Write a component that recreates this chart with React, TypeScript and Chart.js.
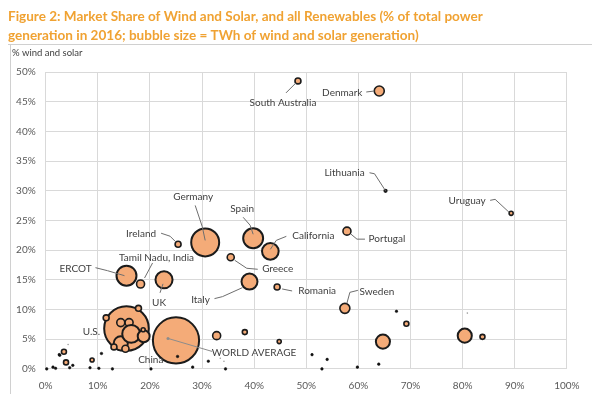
import { useEffect, useRef } from "react";
import { Chart, registerables } from "chart.js";

Chart.register(...registerables);

const TITLE_LINES = [
  "Figure 2: Market Share of Wind and Solar, and all Renewables (% of total power",
  "generation in 2016; bubble size = TWh of wind and solar generation)",
];
const Y_AXIS_TITLE = "% wind and solar";
const X_MIN = 0;
const X_MAX = 100;
const X_STEP = 10;
const Y_MIN = 0;
const Y_MAX = 50;
const Y_STEP = 5;

// Labelled bubbles: x = % all renewables, y = % wind and solar, size = TWh wind+solar
const namedLabels = [
  "South Australia", "Denmark", "Lithuania", "Uruguay", "Portugal", "Ireland",
  "Germany", "Spain", "California", "Greece", "Tamil Nadu, India", "ERCOT",
  "UK", "Italy", "Romania", "Sweden", "U.S.", "WORLD AVERAGE", "China",
];
const namedX = [48.4, 64.0, 65.2, 89.3, 57.8, 25.4, 30.6, 39.8, 43.1, 35.5, 18.2, 15.5, 22.7, 39.1, 44.4, 57.4, 15.5, 25.0, 14.4];
const namedY = [48.5, 46.8, 30.0, 26.2, 23.2, 21.0, 21.3, 22.0, 19.8, 18.8, 14.3, 15.7, 15.0, 14.7, 13.8, 10.2, 6.8, 4.8, 4.3];
const namedTWh = [5, 14, 1, 2.3, 9, 5, 110, 56, 39, 7, 9, 56, 41, 36, 5, 14, 280, 300, 28];

// Unlabelled bubbles
const otherX = [17.8, 11.6, 14.4, 16.0, 16.4, 18.8, 15.3, 13.1, 18.7, 3.5, 3.9, 8.9, 32.8, 38.2, 44.8, 69.2, 80.4, 83.8, 64.7];
const otherY = [10.2, 8.6, 7.8, 7.8, 5.9, 5.5, 3.4, 3.7, 6.6, 2.9, 1.1, 1.5, 5.6, 6.2, 4.6, 7.6, 5.6, 5.4, 4.6];
const otherTWh = [5, 5, 9, 9, 45, 20, 7, 5, 2.3, 3.5, 3.5, 2.3, 9, 3.5, 2.3, 3.5, 28, 3.5, 28];

// Very small systems (dots)
const dotX = [2.6, 10.7, 31.2, 25.3, 67.3, 51.1, 54.0, 28.2, 34.5, 0.2, 1.4, 1.9, 4.6, 5.2, 8.5, 10.2, 12.8, 20.2, 53.0, 59.8, 63.9, 2.7];
const dotY = [2.4, 2.6, 1.3, 2.1, 9.7, 2.4, 1.6, 0.3, 0.0, 0.0, 0.3, 0.1, 0.2, 0.6, 0.2, 0.1, 0.0, 0.0, 0.0, 0.3, 0.8, 2.3];
const faintX = [80.9, 4.3, 33.5, 34.2];
const faintY = [9.4, 4.1, 1.8, 1.3];

// label placement (pixel offsets from the bubble centre)
type LabelLayout = { tx: number; ty: number; line?: [number, number][]; grey?: boolean };
const LABEL_LAYOUT: Record<string, LabelLayout> = {
  "South Australia": { tx: -15, ty: 22, line: [[-12, 12], [-2, 2]] },
  Denmark: { tx: -37, ty: 2, line: [[-13, 1], [-5, 0]] },
  Lithuania: { tx: -41, ty: -18, line: [[-16, -18], [-11, -17], [0, 0]] },
  Uruguay: { tx: -44, ty: -13, line: [[-21, -13], [-16, -14], [-2, -1]] },
  Portugal: { tx: 40, ty: 8, line: [[4, 3], [10, 8], [18, 8]] },
  California: { tx: 43, ty: -16, line: [[0, -2], [6, -11], [16, -15]] },
  Spain: { tx: -11, ty: -29, line: [[-10, -21], [-3, -13], [0, -4]] },
  Germany: { tx: -12, ty: -46, line: [[-10, -37], [-3, -16], [0, -2]] },
  Ireland: { tx: -37, ty: -10, line: [[-17, -11], [-8, -8], [-3, -3]] },
  "Tamil Nadu, India": { tx: 16, ty: -26, line: [[12, -21], [4, -6]] },
  ERCOT: { tx: -51, ty: -7, line: [[-31, -8], [-19, -5], [-2, 0]] },
  UK: { tx: -5, ty: 23, line: [[-4, 13], [-1, 4]] },
  Italy: { tx: -49, ty: 18, line: [[-35, 17], [-27, 15], [-7, 6]] },
  Greece: { tx: 47, ty: 12, line: [[4, 3], [16, 11], [27, 12]] },
  Romania: { tx: 40, ty: 4, line: [[5, 2], [15, 4]] },
  Sweden: { tx: 32, ty: -17, line: [[2, -5], [5, -16], [13, -18]] },
  "U.S.": { tx: -35, ty: 3 },
  "WORLD AVERAGE": { tx: 78, ty: 12, line: [[-8, -2], [36, 11]], grey: true },
  China: { tx: 30, ty: 16 },
};

const R_SCALE = 1.333;
const toR = (twh: number) => R_SCALE * Math.sqrt(twh);
const FILL = "#F4AB78";
const EDGE = "#1b1b1b";
const TEXT = "#404040";
const FONT = "Lato, 'Open Sans', sans-serif";

const decorPlugin = {
  id: "decor",
  beforeDraw(chart: any) {
    const ctx = chart.ctx;
    ctx.save();
    ctx.fillStyle = "#ffffff";
    ctx.fillRect(0, 0, chart.width, chart.height);
    // frame
    ctx.strokeStyle = "#d0d0d0";
    ctx.lineWidth = 1;
    ctx.beginPath();
    ctx.moveTo(8, 44.5);
    ctx.lineTo(chart.width, 44.5);
    ctx.moveTo(10.5, 44.5);
    ctx.lineTo(10.5, chart.height);
    ctx.stroke();
    // title
    ctx.fillStyle = "#F0A232";
    ctx.textBaseline = "middle";
    ctx.textAlign = "left";
    ctx.font = `bold 15px ${FONT}`;
    const w = ctx.measureText(TITLE_LINES[0]).width;
    const size = (15 * 475) / w;
    ctx.font = `bold ${size.toFixed(2)}px ${FONT}`;
    ctx.fillText(TITLE_LINES[0], 8, 17);
    ctx.fillText(TITLE_LINES[1], 8, 36);
    // y axis title
    ctx.fillStyle = TEXT;
    ctx.font = `9.5px ${FONT}`;
    ctx.fillText(Y_AXIS_TITLE, 12, 53);
    ctx.restore();
  },
  afterDatasetsDraw(chart: any) {
    const ctx = chart.ctx;
    const meta = chart.getDatasetMeta(2);
    ctx.save();
    ctx.font = `10px ${FONT}`;
    ctx.textAlign = "center";
    ctx.textBaseline = "middle";
    namedLabels.forEach((name, i) => {
      const el = meta.data[i];
      const lay = LABEL_LAYOUT[name];
      if (!el || !lay) return;
      const px = el.x;
      const py = el.y;
      if (lay.line) {
        ctx.strokeStyle = lay.grey ? "#8c8c8c" : "#6e6e6e";
        ctx.lineWidth = 1;
        ctx.beginPath();
        lay.line.forEach(([dx, dy], k) => {
          if (k === 0) ctx.moveTo(px + dx, py + dy);
          else ctx.lineTo(px + dx, py + dy);
        });
        ctx.stroke();
        if (lay.grey) {
          ctx.fillStyle = "#8c8c8c";
          ctx.beginPath();
          ctx.arc(px + lay.line[0][0], py + lay.line[0][1], 1.5, 0, Math.PI * 2);
          ctx.fill();
        }
      }
      ctx.fillStyle = TEXT;
      ctx.fillText(name, px + lay.tx, py + lay.ty);
    });
    ctx.restore();
  },
};

export default function App() {
  const ref = useRef<HTMLCanvasElement | null>(null);

  useEffect(() => {
    if (!ref.current) return;
    const named = namedX.map((x, i) => ({ x, y: namedY[i], r: toR(namedTWh[i]) }));
    const others = otherX.map((x, i) => ({ x, y: otherY[i], r: toR(otherTWh[i]) }));
    const dots = dotX.map((x, i) => ({ x, y: dotY[i], r: 1.3 }));
    const faint = faintX.map((x, i) => ({ x, y: faintY[i], r: 0.8 }));

    const chart = new Chart(ref.current, {
      type: "bubble",
      data: {
        datasets: [
          {
            label: "dots",
            data: dots,
            backgroundColor: "#111111",
            borderColor: "#111111",
            borderWidth: 0.5,
            order: 0,
            clip: false,
          } as any,
          {
            label: "others",
            data: others,
            backgroundColor: FILL,
            borderColor: EDGE,
            borderWidth: (c: any) => (c.raw && c.raw.r > 5 ? 2 : 1.6),
            order: 1,
            clip: false,
          } as any,
          {
            label: "named",
            data: named,
            backgroundColor: (c: any) => (c.raw && c.raw.r < 1.6 ? EDGE : FILL),
            borderColor: EDGE,
            borderWidth: (c: any) => (c.raw && c.raw.r > 5 ? 2 : 1.6),
            order: 2,
            clip: false,
          } as any,
          {
            label: "faint",
            data: faint,
            backgroundColor: "#9a9a9a",
            borderColor: "#9a9a9a",
            borderWidth: 0,
            order: 3,
            clip: false,
          } as any,
        ],
      },
      options: {
        animation: false,
        responsive: false,
        layout: { padding: { top: 72, right: 16, bottom: 0, left: 0 } },
        plugins: {
          legend: { display: false },
          tooltip: { enabled: false },
          title: { display: false },
        },
        scales: {
          x: {
            type: "linear",
            min: X_MIN,
            max: X_MAX,
            ticks: {
              stepSize: X_STEP,
              padding: 11,
              color: "#595959",
              font: { size: 10, family: FONT },
              callback: (v: any) => `${v}%`,
              maxRotation: 0,
            },
            grid: { color: "#d9d9d9", drawTicks: false },
            border: { color: "#d9d9d9" },
            afterFit: (s: any) => {
              s.height = 22;
            },
          },
          y: {
            type: "linear",
            min: Y_MIN,
            max: Y_MAX,
            ticks: {
              stepSize: Y_STEP,
              padding: 10,
              color: "#595959",
              font: { size: 10, family: FONT },
              callback: (v: any) => `${v}%`,
            },
            grid: { color: "#d9d9d9", drawTicks: false },
            border: { color: "#d9d9d9" },
            afterFit: (s: any) => {
              s.width = 45.7;
            },
          },
        },
      },
      plugins: [decorPlugin],
    } as any);
    return () => chart.destroy();
  }, []);

  return (
    <div style={{ position: "fixed", left: 0, top: 0, width: 592, height: 394 }}>
      <canvas ref={ref} width={592} height={394} style={{ width: 592, height: 394, display: "block" }} />
    </div>
  );
}
